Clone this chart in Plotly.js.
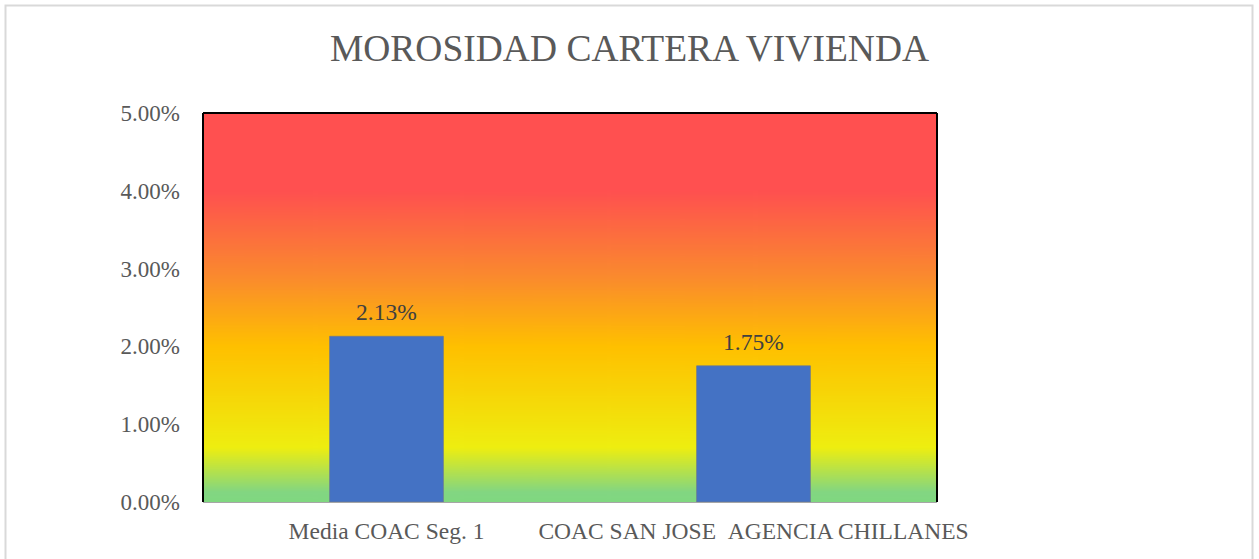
<!DOCTYPE html>
<html>
<head>
<meta charset="utf-8">
<script src="https://cdn.plot.ly/plotly-3.0.1.min.js"></script>
<style>html,body{margin:0;padding:0;background:#fff;}#chart{width:1259px;height:559px;}</style>
</head>
<body>
<div id="chart"></div>
<script>
const categories = ["Media COAC Seg. 1", "COAC SAN JOSE \u00a0AGENCIA CHILLANES"];
const values = [0.0213, 0.0175];
const chartTitle = "MOROSIDAD CARTERA VIVIENDA";

// background gradient (top -> bottom)
function gradientImage() {
  const c = document.createElement('canvas');
  c.width = 10; c.height = 400;
  const g = c.getContext('2d');
  const grd = g.createLinearGradient(0, 0, 0, 400);
  grd.addColorStop(0.0, '#FF5050');
  grd.addColorStop(0.2, '#FF5050');
  grd.addColorStop(0.42, '#FA8A2E');
  grd.addColorStop(0.6, '#FFC000');
  grd.addColorStop(0.86, '#EEEE10');
  grd.addColorStop(0.975, '#82D682');
  grd.addColorStop(1.0, '#80D880');
  g.fillStyle = grd;
  g.fillRect(0, 0, 10, 400);
  return c.toDataURL('image/png');
}

const W = 1259, H = 559;
const M = {l: 203, r: 322, t: 113, b: 57};
const pw = W - M.l - M.r, ph = H - M.t - M.b;
const px = v => (v - M.l) / pw;
const py = v => 1 - (v - M.t) / ph;

const trace = {
  type: 'bar',
  x: categories,
  y: values,
  marker: {color: '#4472C4', line: {color: 'rgba(110,120,140,0.7)', width: 1}},
  width: 0.31,
  hoverinfo: 'x+y'
};

const labelFont = {family: 'Liberation Serif', size: 23.5, color: '#404040'};
const annotations = categories.map((c, i) => ({
  x: c, y: values[i], xref: 'x', yref: 'y',
  text: (values[i] * 100).toFixed(2) + '%',
  showarrow: false, yanchor: 'bottom', yshift: 9,
  font: labelFont
}));

const layout = {
  width: W, height: H,
  margin: M,
  paper_bgcolor: '#ffffff',
  plot_bgcolor: 'rgba(0,0,0,0)',
  showlegend: false,
  title: {text: chartTitle, x: 0.5, xanchor: 'center', y: 1 - 48 / H, yanchor: 'middle',
          font: {family: 'Liberation Serif', size: 37.5, color: '#595959'}},
  xaxis: {
    type: 'category',
    showgrid: false, zeroline: false,
    showline: true, linecolor: '#A6A6A6', linewidth: 1,
    ticks: '', ticklabelstandoff: 8,
    tickfont: {family: 'Liberation Serif', size: 23.5, color: '#595959'},
    fixedrange: true
  },
  yaxis: {
    range: [0, 0.05], dtick: 0.01, tickformat: '.2%',
    showgrid: false, zeroline: false, showline: false,
    ticks: '', ticklabelstandoff: 22,
    tickfont: {family: 'Liberation Serif', size: 23, color: '#595959'},
    fixedrange: true
  },
  annotations: annotations,
  images: [{
    source: gradientImage(),
    xref: 'x domain', yref: 'y domain',
    x: 0, y: 1, sizex: 1, sizey: 1,
    xanchor: 'left', yanchor: 'top',
    sizing: 'stretch', layer: 'below'
  }],
  shapes: [
    {type: 'line', xref: 'x domain', yref: 'y domain', x0: 0, x1: 1, y0: 1, y1: 1, line: {color: '#000', width: 2}},
    {type: 'line', xref: 'x domain', yref: 'y domain', x0: 0, x1: 0, y0: 0, y1: 1, line: {color: '#000', width: 2}},
    {type: 'line', xref: 'x domain', yref: 'y domain', x0: 1, x1: 1, y0: 0, y1: 1, line: {color: '#000', width: 2}},
    {type: 'rect', xref: 'paper', yref: 'paper', x0: px(5.5), x1: px(1252.5), y0: py(5.5), y1: py(565),
     line: {color: '#D9D9D9', width: 2}, fillcolor: 'rgba(0,0,0,0)', layer: 'above'}
  ]
};

Plotly.newPlot('chart', [trace], layout, {displayModeBar: false, staticPlot: true});
</script>
</body>
</html>
